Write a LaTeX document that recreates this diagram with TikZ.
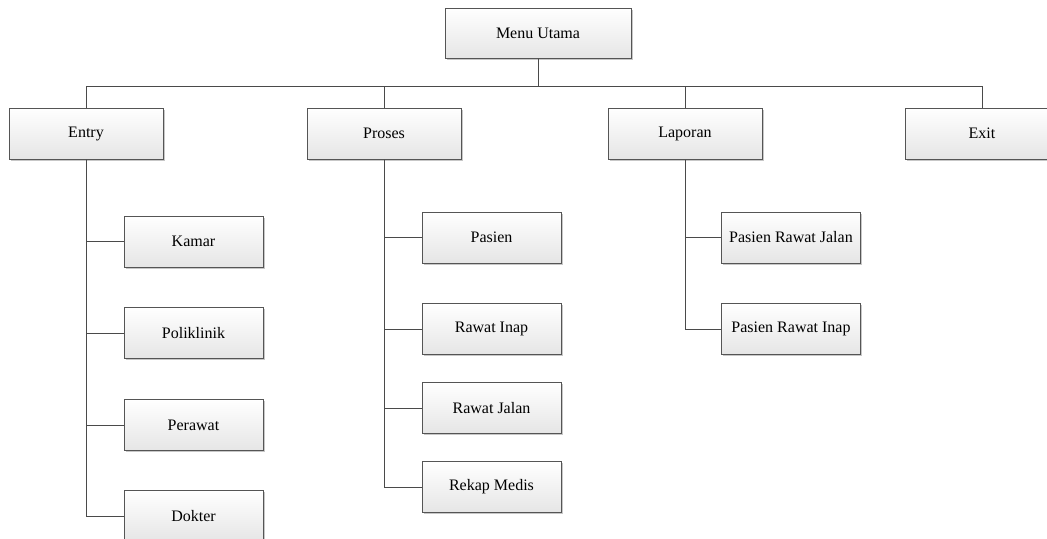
\documentclass[tikz,border=0pt]{standalone}
\usepackage{fontspec}
\setmainfont{Liberation Serif}
\usetikzlibrary{shadows}

\definecolor{edgegray}{HTML}{555555}
\definecolor{linegray}{HTML}{4A4A4A}

\tikzset{
  menubox/.style={
    draw=edgegray, line width=0.75pt, rectangle, inner sep=0pt,
    top color=white, bottom color=black!10,
    drop shadow={shadow xshift=1.3pt, shadow yshift=-1.3pt, fill=black!22, opacity=1},
    font=\fontsize{12}{14}\selectfont, text=black
  },
  rootbox/.style={menubox, minimum width=139.5pt, minimum height=37.5pt},
  topbox/.style={menubox, minimum width=115.5pt, minimum height=38.25pt},
  subbox/.style={menubox, minimum width=104.25pt, minimum height=38.25pt},
  link/.style={draw=linegray, line width=0.75pt}
}

\begin{document}
\begin{tikzpicture}[x=0.75pt, y=-0.75pt]
  \clip (0,0) rectangle (1047,539);
  \fill[white] (0,0) rectangle (1047,539);

  % root
  \node[rootbox] (menu) at (538,33) {Menu Utama};

  % first level
  \node[topbox] (entry)   at (86,133.5)  {Entry};
  \node[topbox] (proses)  at (384,133.5) {Proses};
  \node[topbox] (laporan) at (685,133.5) {Laporan};
  \node[topbox] (exit)    at (982,133.5) {Exit};

  % Entry submenu
  \node[subbox] (kamar)      at (193.5,241.5) {Kamar};
  \node[subbox] (poliklinik) at (193.5,333)   {Poliklinik};
  \node[subbox] (perawat)    at (193.5,425)   {Perawat};
  \node[subbox] (dokter)     at (193.5,516)   {Dokter};

  % Proses submenu
  \node[subbox] (pasien)     at (491.5,237.5) {Pasien};
  \node[subbox] (rawatinap)  at (491.5,329)   {Rawat Inap};
  \node[subbox] (rawatjalan) at (491.5,408)   {Rawat Jalan};
  \node[subbox] (rekap)      at (491.5,487)   {Rekap Medis};

  % Laporan submenu
  \node[subbox] (prj) at (791,237.5) {Pasien Rawat Jalan};
  \node[subbox] (pri) at (791,329)   {Pasien Rawat Inap};

  % bus line below the root
  \coordinate (bus) at (0,86.5);

  % root to first level
  \foreach \t in {entry,proses,laporan,exit}
    \draw[link] (menu.south) -- (menu.south |- bus) -| (\t.north);

  % first level to submenus
  \foreach \c in {kamar,poliklinik,perawat,dokter}
    \draw[link] (entry.south) |- (\c.west);
  \foreach \c in {pasien,rawatinap,rawatjalan,rekap}
    \draw[link] (proses.south) |- (\c.west);
  \foreach \c in {prj,pri}
    \draw[link] (laporan.south) |- (\c.west);
\end{tikzpicture}
\end{document}
